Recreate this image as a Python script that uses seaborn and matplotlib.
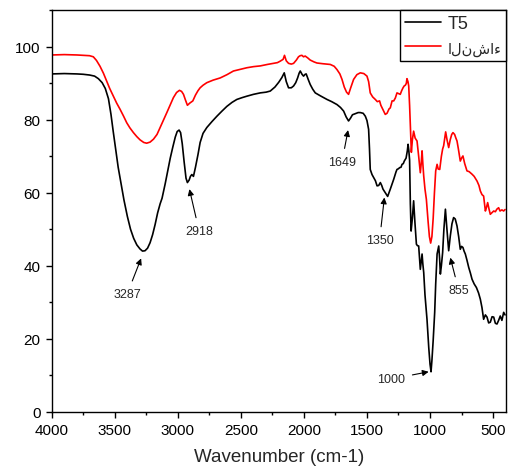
import numpy as np
import pandas as pd
import matplotlib
matplotlib.use("Agg")
import matplotlib.pyplot as plt
import seaborn as sns
from matplotlib.ticker import MultipleLocator

# FTIR spectra: wavenumber (cm-1) and transmittance (%)
t5_wn = [4000, 3900, 3800, 3750, 3700, 3660, 3630, 3600, 3575, 3550, 3530, 3513, 3495, 3473, 3450,
         3427, 3400, 3375, 3350, 3325, 3300, 3280, 3260, 3240, 3220, 3200, 3180, 3160, 3140, 3125,
         3100, 3080, 3060, 3040, 3020, 3005, 2990, 2978, 2965, 2950, 2935, 2924, 2910, 2900, 2889,
         2876, 2860, 2840, 2823, 2800, 2770, 2730, 2690, 2650, 2611, 2570, 2532, 2490, 2452, 2400,
         2346, 2300, 2267, 2230, 2200, 2175, 2156, 2140, 2122, 2100, 2082, 2065, 2050, 2038, 2029,
         2015, 2003, 1990, 1982, 1965, 1950, 1930, 1910, 1870, 1817, 1780, 1738, 1710, 1685, 1665,
         1646, 1630, 1615, 1593, 1570, 1553, 1530, 1513, 1500, 1487, 1480, 1474, 1460, 1447, 1433,
         1420, 1407, 1394, 1383, 1373, 1355, 1336, 1315, 1288, 1270, 1262, 1250, 1241, 1230, 1222,
         1212, 1204, 1190, 1180, 1174, 1168, 1162, 1156, 1150, 1140, 1130, 1120, 1108, 1100, 1090,
         1083, 1077, 1070, 1063, 1057, 1050, 1040, 1024, 1010, 1000, 992, 985, 975, 963, 955,
         944, 931, 924, 918, 910, 900, 890, 878, 866, 852, 839, 826, 813, 800, 786,
         773, 760, 750, 739, 730, 720, 707, 693, 680, 667, 650, 632, 615, 601, 588,
         575, 561, 548, 535, 522, 508, 495, 482, 469, 456, 443, 430, 416, 405]
t5_val = [92.6, 92.7, 92.6, 92.5, 92.3, 92.0, 91.3, 90.2, 88.6, 85.8, 81.5, 77.0, 72.5, 67.0, 62.5,
          58.0, 53.5, 50.0, 47.5, 45.7, 44.6, 44.0, 44.1, 44.8, 46.3, 48.5, 51.3, 54.5, 57.0, 58.5,
          62.5, 66.0, 69.5, 72.5, 75.3, 76.8, 77.2, 76.5, 73.5, 68.5, 64.0, 62.8, 63.5, 64.5, 65.0,
          64.5, 67.0, 70.5, 73.8, 76.3, 77.9, 79.5, 81.0, 82.4, 83.7, 84.8, 85.6, 86.1, 86.5, 87.0,
          87.4, 87.6, 87.9, 89.0, 90.3, 91.6, 92.9, 90.5, 88.8, 88.8, 89.3, 90.2, 91.5, 92.8, 93.4,
          92.5, 92.0, 92.5, 92.6, 91.0, 89.7, 88.4, 87.4, 86.6, 85.6, 85.0, 84.2, 83.4, 82.4, 80.8,
          79.7, 80.5, 81.4, 81.7, 82.0, 82.0, 81.8, 81.0, 79.8, 77.4, 72.0, 66.4, 65.0, 64.2, 63.3,
          61.9, 62.0, 62.8, 62.0, 61.0, 60.0, 59.0, 61.0, 63.7, 65.7, 66.4, 66.6, 66.9, 67.0, 67.8,
          68.0, 68.7, 69.5, 71.5, 73.3, 71.5, 69.0, 57.0, 49.5, 53.0, 57.8, 52.0, 45.9, 45.5, 45.4,
          42.0, 39.0, 41.0, 43.2, 40.5, 38.1, 32.0, 25.3, 17.5, 13.0, 10.9, 14.0, 19.5, 27.2, 35.0,
          43.2, 45.4, 42.0, 37.7, 40.0, 43.6, 50.0, 55.5, 50.0, 44.1, 48.2, 51.5, 53.2, 52.8, 50.9,
          48.0, 44.5, 45.3, 45.0, 44.0, 43.2, 41.5, 39.5, 38.0, 36.3, 35.0, 34.0, 32.5, 30.8, 28.5,
          25.3, 26.5, 25.9, 24.3, 24.5, 26.0, 25.9, 24.2, 24.0, 25.0, 26.2, 25.0, 27.2, 26.5]

starch_wn = [4000, 3900, 3800, 3700, 3670, 3645, 3617, 3590, 3564, 3540, 3511, 3485, 3458, 3430, 3405,
             3380, 3352, 3325, 3299, 3270, 3247, 3220, 3193, 3165, 3140, 3113, 3087, 3060, 3035, 3010,
             2987, 2970, 2955, 2940, 2924, 2905, 2881, 2860, 2840, 2823, 2800, 2770, 2720, 2664, 2610,
             2559, 2500, 2452, 2400, 2346, 2290, 2241, 2210, 2188, 2165, 2154, 2140, 2122, 2100, 2082,
             2060, 2043, 2030, 2016, 2003, 1990, 1970, 1950, 1920, 1897, 1850, 1791, 1760, 1738, 1715,
             1698, 1680, 1662, 1646, 1630, 1606, 1580, 1553, 1525, 1500, 1487, 1474, 1455, 1434, 1418,
             1400, 1390, 1380, 1368, 1355, 1341, 1325, 1315, 1301, 1288, 1275, 1262, 1248, 1236, 1225,
             1214, 1205, 1196, 1188, 1183, 1175, 1169, 1162, 1156, 1148, 1140, 1130, 1118, 1103, 1090,
             1077, 1070, 1063, 1057, 1050, 1040, 1029, 1015, 1005, 995, 985, 975, 965, 955, 944,
             935, 923, 910, 900, 892, 876, 865, 852, 840, 828, 818, 805, 795, 786, 775,
             760, 750, 739, 725, 707, 690, 667, 650, 627, 612, 601, 588, 575, 568, 561,
             552, 543, 532, 522, 510, 495, 482, 470, 456, 445, 430, 416, 405]
starch_val = [97.8, 97.9, 97.8, 97.6, 97.3, 96.3, 94.7, 92.8, 90.6, 88.6, 86.5, 84.6, 82.9, 81.0, 79.2,
              77.8, 76.5, 75.4, 74.5, 73.8, 73.6, 73.9, 74.7, 76.0, 77.9, 79.9, 82.0, 84.1, 86.1, 87.5,
              88.1, 87.8, 87.0, 85.5, 84.0, 84.6, 85.2, 86.8, 88.0, 88.8, 89.5, 90.2, 90.9, 91.5, 92.4,
              93.4, 93.9, 94.3, 94.6, 94.8, 95.2, 95.5, 95.7, 96.1, 96.6, 97.7, 96.2, 95.5, 95.3, 95.5,
              96.4, 97.3, 97.6, 97.7, 97.3, 97.5, 97.0, 96.4, 95.9, 95.6, 95.4, 95.2, 94.7, 93.8, 92.6,
              91.1, 89.0, 87.6, 87.0, 88.7, 91.1, 92.4, 92.9, 92.7, 92.0, 90.5, 87.4, 86.3, 85.6, 85.0,
              85.2, 84.0, 83.3, 82.4, 81.5, 81.8, 83.0, 83.3, 85.2, 85.2, 86.0, 87.4, 87.2, 87.0, 88.0,
              88.8, 89.3, 89.5, 90.0, 91.3, 90.5, 89.3, 84.0, 78.3, 71.1, 74.5, 76.9, 75.0, 74.2, 70.0,
              65.5, 68.0, 71.5, 68.0, 64.6, 61.0, 58.2, 52.0, 48.0, 46.2, 48.0, 53.0, 60.0, 66.0, 67.8,
              66.5, 66.4, 70.0, 72.0, 72.9, 76.7, 74.5, 72.4, 74.5, 76.0, 76.5, 76.0, 75.0, 74.2, 72.0,
              68.7, 69.5, 70.1, 68.0, 66.0, 65.8, 65.1, 64.5, 63.2, 62.0, 60.5, 59.5, 59.1, 57.0, 55.0,
              56.0, 57.3, 55.5, 54.1, 54.5, 55.0, 54.8, 55.5, 55.9, 55.0, 55.3, 55.0, 55.4]

series_labels = ["T5", "النشاء"]

# peak labels: (text, arrow tip x, tip y, text x, text y)
peak_labels = ["3287", "2918", "1649", "1350", "1000", "855"]
peak_tip = [(3291, 42.0), (2908, 61.0), (1650, 77.2), (1362, 58.7), (1011, 10.9), (839, 42.2)]
peak_text = [(3402, 32.2), (2831, 49.5), (1698, 68.5), (1400, 47.0), (1309, 8.9), (773, 33.3)]

sns.set_style("ticks")
plt.rcParams["font.family"] = ["Liberation Sans", "DejaVu Sans"]

t5 = pd.DataFrame({"wn": t5_wn, "T": t5_val})
starch = pd.DataFrame({"wn": starch_wn, "T": starch_val})

fig = plt.figure(figsize=(5.11, 4.77), dpi=100)
ax = fig.add_axes([0.1012, 0.1352, 0.8884, 0.8407])

sns.lineplot(data=t5, x="wn", y="T", color="black", lw=1.2, estimator=None, sort=False,
             label=series_labels[0], ax=ax)
sns.lineplot(data=starch, x="wn", y="T", color="red", lw=1.2, estimator=None, sort=False,
             label=series_labels[1], ax=ax)

for txt, tip, pos in zip(peak_labels, peak_tip, peak_text):
    ax.annotate(txt, xy=tip, xytext=pos, fontsize=9, ha="center", va="center",
                arrowprops=dict(arrowstyle="-|>", color="black", lw=0.8,
                                mutation_scale=9, shrinkA=3, shrinkB=0))

ax.set_xlim(4000, 400)
ax.set_ylim(0, 110)
ax.xaxis.set_major_locator(MultipleLocator(500))
ax.xaxis.set_minor_locator(MultipleLocator(250))
ax.yaxis.set_major_locator(MultipleLocator(20))
ax.yaxis.set_minor_locator(MultipleLocator(10))
ax.tick_params(which="major", length=4.5, width=1, labelsize=11, color="black", labelcolor="black")
ax.tick_params(which="minor", length=2.3, width=1, color="black")
ax.set_xlabel("Wavenumber (cm-1)", fontsize=13.5, labelpad=8)
ax.set_ylabel("")
for s in ax.spines.values():
    s.set_visible(True)
    s.set_color("black")
    s.set_linewidth(1)

leg = ax.legend(loc="upper right", fontsize=13, frameon=True, fancybox=False, framealpha=1,
                edgecolor="black", borderaxespad=0, handlelength=2.0, handletextpad=0.35,
                borderpad=0.25, labelspacing=0.45)
leg.get_frame().set_linewidth(1)
leg.get_texts()[1].set_fontsize(10.5)

fig.savefig("out.png", dpi=100)
